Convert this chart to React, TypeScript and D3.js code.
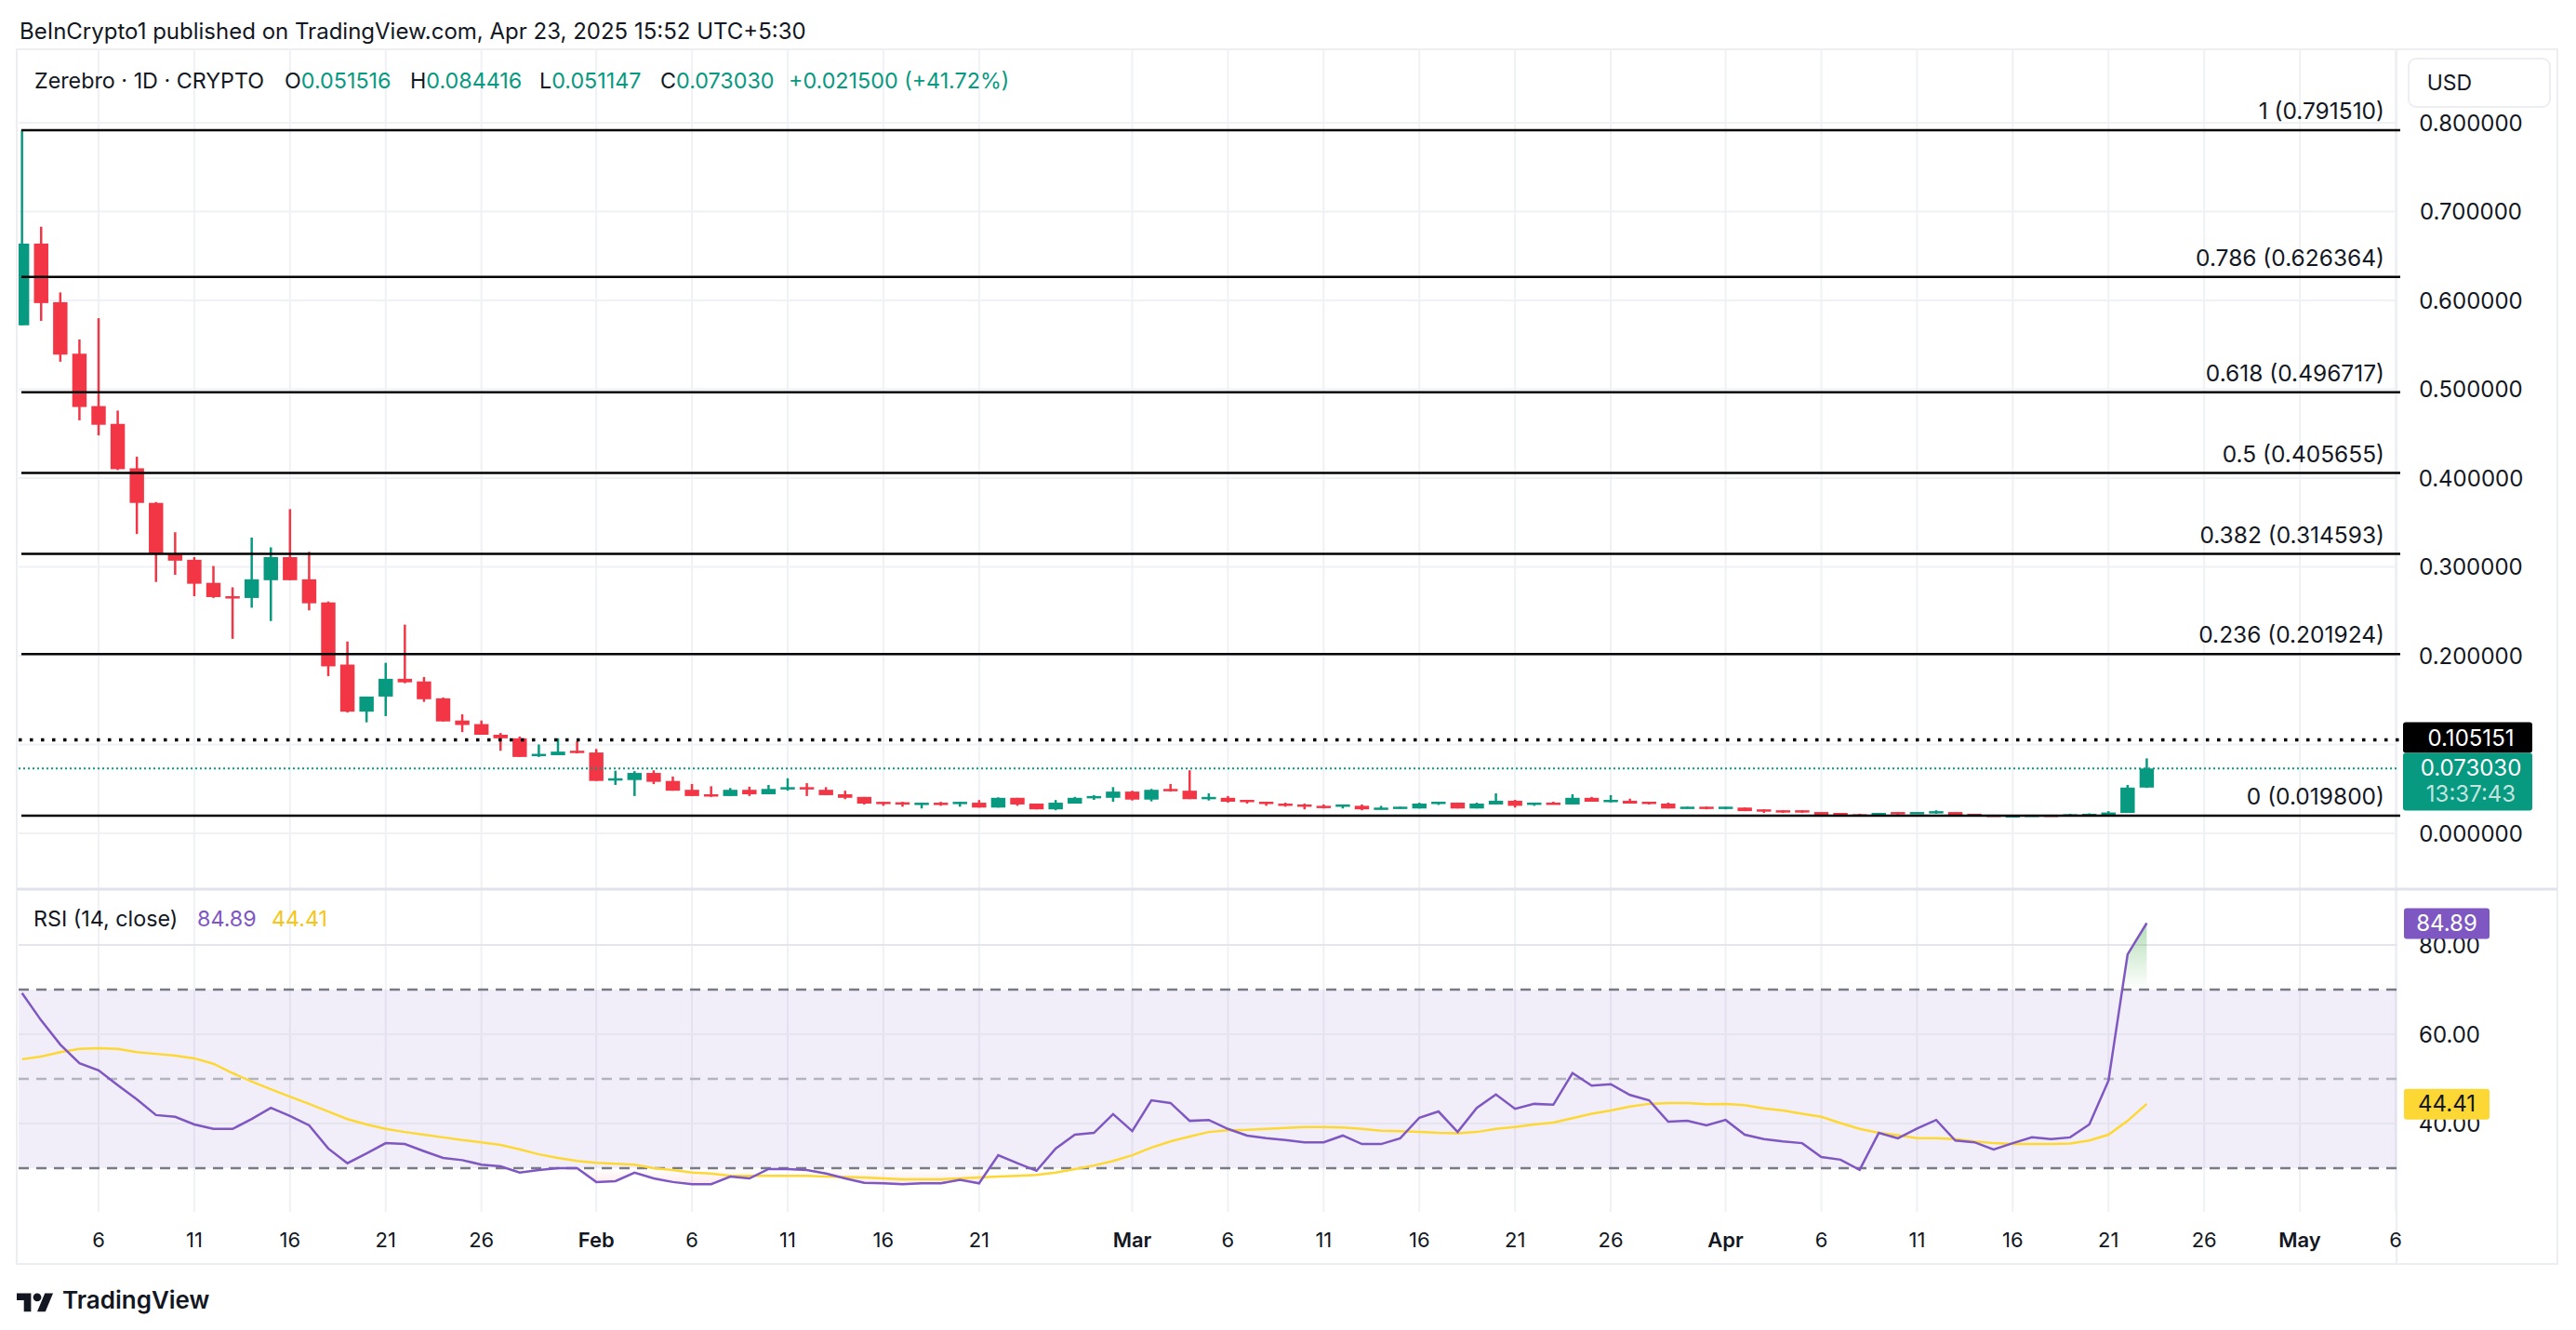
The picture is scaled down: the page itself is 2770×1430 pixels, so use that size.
import { useEffect } from 'react';
import * as d3 from 'd3';

// Daily candles [open, high, low, close], first bar is 2025-01-02
const janCandles: number[][] = [
  [0.572, 0.79151, 0.572, 0.664], [0.664, 0.683, 0.577, 0.597], [0.598, 0.609, 0.531, 0.539],
  [0.540, 0.556, 0.465, 0.480], [0.481, 0.580, 0.448, 0.460], [0.461, 0.476, 0.409, 0.410],
  [0.411, 0.424, 0.337, 0.372], [0.372, 0.373, 0.283, 0.314], [0.315, 0.339, 0.291, 0.307],
  [0.308, 0.311, 0.267, 0.281], [0.282, 0.301, 0.265, 0.266], [0.267, 0.277, 0.219, 0.266],
  [0.265, 0.333, 0.254, 0.286], [0.285, 0.322, 0.239, 0.311], [0.311, 0.365, 0.285, 0.285],
  [0.286, 0.317, 0.251, 0.259], [0.260, 0.261, 0.177, 0.188], [0.190, 0.216, 0.136, 0.137],
  [0.137, 0.154, 0.125, 0.154], [0.154, 0.192, 0.132, 0.174], [0.174, 0.235, 0.169, 0.170],
  [0.171, 0.176, 0.148, 0.151], [0.152, 0.153, 0.126, 0.126], [0.127, 0.134, 0.114, 0.122],
  [0.123, 0.127, 0.111, 0.111], [0.111, 0.113, 0.093, 0.107], [0.107, 0.109, 0.086, 0.086],
  [0.0885, 0.100, 0.086, 0.0895], [0.088, 0.107, 0.088, 0.092], [0.093, 0.104, 0.090, 0.091],
];
const febCandles: number[][] = [
  [0.091, 0.095, 0.059, 0.059], [0.060, 0.0705, 0.0545, 0.062], [0.060, 0.070, 0.042, 0.068],
  [0.068, 0.071, 0.0555, 0.058], [0.059, 0.064, 0.048, 0.048], [0.049, 0.0555, 0.042, 0.042],
  [0.044, 0.053, 0.041, 0.042], [0.042, 0.051, 0.042, 0.049], [0.049, 0.0525, 0.042, 0.044],
  [0.044, 0.0545, 0.044, 0.050], [0.0505, 0.062, 0.048, 0.052], [0.052, 0.0565, 0.042, 0.0505],
  [0.049, 0.052, 0.043, 0.043], [0.044, 0.048, 0.0385, 0.040], [0.041, 0.041, 0.0325, 0.0335],
  [0.0355, 0.0355, 0.031, 0.034], [0.035, 0.0355, 0.030, 0.033], [0.033, 0.0345, 0.028, 0.0345],
  [0.0345, 0.0355, 0.031, 0.033], [0.0337, 0.0355, 0.030, 0.0355], [0.0345, 0.0375, 0.029, 0.029],
  [0.029, 0.0405, 0.029, 0.040], [0.040, 0.040, 0.031, 0.0325], [0.0335, 0.0335, 0.027, 0.027],
  [0.027, 0.0375, 0.026, 0.0345], [0.0335, 0.041, 0.0335, 0.040], [0.0405, 0.043, 0.0377, 0.042],
  [0.040, 0.052, 0.0356, 0.047],
];
const marCandles: number[][] = [
  [0.047, 0.048, 0.037, 0.038], [0.038, 0.050, 0.036, 0.049], [0.050, 0.0555, 0.047, 0.048],
  [0.048, 0.071, 0.0385, 0.0385], [0.039, 0.045, 0.037, 0.041], [0.040, 0.042, 0.0346, 0.0356],
  [0.0377, 0.0377, 0.0335, 0.036], [0.0356, 0.0356, 0.031, 0.034], [0.0335, 0.0345, 0.030, 0.031],
  [0.0325, 0.0335, 0.027, 0.030], [0.031, 0.0325, 0.028, 0.029], [0.030, 0.0325, 0.028, 0.0325],
  [0.031, 0.0325, 0.026, 0.027], [0.027, 0.031, 0.027, 0.029], [0.028, 0.030, 0.028, 0.030],
  [0.028, 0.0345, 0.028, 0.0335], [0.034, 0.0356, 0.032, 0.0356], [0.0346, 0.0346, 0.028, 0.028],
  [0.028, 0.0346, 0.028, 0.0335], [0.0325, 0.045, 0.0325, 0.0367], [0.0367, 0.0377, 0.029, 0.031],
  [0.0325, 0.0346, 0.031, 0.0346], [0.0346, 0.0356, 0.0325, 0.0325], [0.0325, 0.044, 0.0325, 0.040],
  [0.040, 0.041, 0.0356, 0.0356], [0.0356, 0.043, 0.0346, 0.0377], [0.0367, 0.039, 0.0335, 0.0335],
  [0.0356, 0.0356, 0.0325, 0.0335], [0.0335, 0.0346, 0.028, 0.028], [0.028, 0.030, 0.028, 0.030],
  [0.030, 0.030, 0.027, 0.028],
];
const aprCandles: number[][] = [
  [0.028, 0.030, 0.027, 0.030], [0.029, 0.029, 0.025, 0.025], [0.027, 0.027, 0.023, 0.025],
  [0.026, 0.026, 0.023, 0.024], [0.026, 0.026, 0.023, 0.024], [0.024, 0.024, 0.021, 0.021],
  [0.023, 0.023, 0.0198, 0.021], [0.0215, 0.022, 0.0198, 0.020], [0.020, 0.023, 0.0198, 0.023],
  [0.024, 0.024, 0.021, 0.022], [0.022, 0.024, 0.022, 0.024], [0.023, 0.026, 0.022, 0.025],
  [0.024, 0.024, 0.020, 0.020], [0.022, 0.022, 0.020, 0.020], [0.021, 0.021, 0.0198, 0.0198],
  [0.0198, 0.0205, 0.0198, 0.0204], [0.020, 0.021, 0.020, 0.021], [0.021, 0.021, 0.020, 0.020],
  [0.020, 0.022, 0.020, 0.0215], [0.020, 0.0225, 0.020, 0.022], [0.0215, 0.025, 0.021, 0.0235],
  [0.023, 0.0545, 0.023, 0.05153], [0.051516, 0.084416, 0.051147, 0.07303],
];

// RSI(14) and its moving average, one value per day
const rsiJan = [69.2, 63.1, 57.7, 53.5, 51.9, 48.6, 45.4, 41.9, 41.5, 39.8, 38.8, 38.8, 41.0, 43.5, 41.7, 39.6, 34.4, 31.1, 33.3, 35.6, 35.4, 33.8, 32.3, 31.8, 30.8, 30.4, 29.0, 29.6, 30.0, 30.0];
const rsiFeb = [26.9, 27.1, 29.0, 27.7, 26.9, 26.4, 26.4, 28.1, 27.7, 29.8, 29.8, 29.6, 28.8, 27.7, 26.7, 26.6, 26.4, 26.6, 26.6, 27.4, 26.6, 32.9, 31.1, 29.4, 34.4, 37.5, 37.9, 42.1];
const rsiMar = [38.3, 45.2, 44.6, 40.6, 40.8, 38.8, 37.3, 36.7, 36.3, 35.8, 35.8, 37.3, 35.4, 35.4, 36.7, 41.3, 42.7, 38.1, 43.5, 46.5, 43.3, 44.4, 44.2, 51.3, 48.5, 48.8, 46.4, 45.2, 40.4, 40.6, 39.6];
const rsiApr = [40.8, 37.5, 36.5, 36.0, 35.6, 32.5, 31.9, 29.6, 37.9, 36.7, 38.9, 40.8, 36.2, 35.8, 34.2, 35.6, 36.9, 36.5, 36.9, 39.8, 49.6, 77.9, 84.89];
const maJan = [54.4, 55.0, 56.0, 56.7, 56.9, 56.7, 56.0, 55.6, 55.2, 54.6, 53.4, 51.3, 49.4, 47.7, 46.0, 44.4, 42.7, 41.0, 39.8, 38.8, 38.1, 37.5, 36.9, 36.3, 35.8, 35.2, 34.2, 33.1, 32.3, 31.6];
const maFeb = [31.2, 31.0, 30.8, 30.0, 29.6, 29.0, 28.8, 28.3, 28.3, 28.3, 28.3, 28.3, 28.1, 28.0, 27.9, 27.7, 27.5, 27.5, 27.5, 27.7, 27.9, 28.1, 28.3, 28.5, 29.0, 29.8, 30.6, 31.6];
const maMar = [32.9, 34.6, 36.0, 37.1, 38.1, 38.5, 38.6, 38.8, 39.0, 39.2, 39.2, 39.1, 38.8, 38.4, 38.3, 38.1, 37.9, 37.8, 38.1, 38.8, 39.2, 39.8, 40.2, 41.2, 42.2, 42.9, 43.8, 44.4, 44.6, 44.6, 44.3];
const maApr = [44.4, 44.1, 43.4, 42.9, 42.2, 41.5, 40.1, 38.8, 37.9, 37.4, 36.7, 36.7, 36.5, 36.0, 35.6, 35.4, 35.4, 35.4, 35.5, 36.2, 37.5, 40.6, 44.41];

const fibLevels = [
  { ratio: '1', price: 0.79151 },
  { ratio: '0.786', price: 0.626364 },
  { ratio: '0.618', price: 0.496717 },
  { ratio: '0.5', price: 0.405655 },
  { ratio: '0.382', price: 0.314593 },
  { ratio: '0.236', price: 0.201924 },
  { ratio: '0', price: 0.0198 },
];
const markedHigh = 0.105151;
const countdown = '13:37:43';
const priceGrid = [0, 0.1, 0.2, 0.3, 0.4, 0.5, 0.6, 0.7, 0.8];
const priceLabels = [0, 0.2, 0.3, 0.4, 0.5, 0.6, 0.7, 0.8];
const rsiGrid = [80, 60, 40];
const rsiLevels = [70, 50, 30];
const dateTicks = [
  '2025-01-06', '2025-01-11', '2025-01-16', '2025-01-21', '2025-01-26', '2025-02-01',
  '2025-02-06', '2025-02-11', '2025-02-16', '2025-02-21', '2025-03-01', '2025-03-06',
  '2025-03-11', '2025-03-16', '2025-03-21', '2025-03-26', '2025-04-01', '2025-04-06',
  '2025-04-11', '2025-04-16', '2025-04-21', '2025-04-26', '2025-05-01', '2025-05-06',
];

const W = 2770;
const H = 1430;
const GREEN = '#089981';
const RED = '#f23645';
const PURPLE = '#7e57c2';
const YELLOW = '#fdd835';
const TEXT = '#131722';
const GRID = '#f0f1f4';
const FONT = 'Inter, Roboto, "Noto Sans", sans-serif';

const PANE_L = 20;
const PANE_R = 2577;
const MAIN_T = 53;
const MAIN_B = 955;
const RSI_T = 957;
const RSI_B = 1303;

export default function App() {
  useEffect(() => {
    document.body.style.margin = '0';
    document.body.style.overflow = 'hidden';
  }, []);

  const start = new Date(Date.UTC(2025, 0, 2));
  const bars = [...janCandles, ...febCandles, ...marCandles, ...aprCandles].map((c, i) => ({
    date: d3.utcDay.offset(start, i), o: c[0], h: c[1], l: c[2], c: c[3],
  }));
  const rsi = [...rsiJan, ...rsiFeb, ...rsiMar, ...rsiApr].map((v, i) => ({ date: bars[i].date, v }));
  const ma = [...maJan, ...maFeb, ...maMar, ...maApr].map((v, i) => ({ date: bars[i].date, v }));

  const x = d3.scaleUtc()
    .domain([new Date(Date.UTC(2025, 0, 6)), new Date(Date.UTC(2025, 4, 6))])
    .range([106, 2576]);
  const y = d3.scaleLinear().domain([0, 0.8]).range([896, 132]);
  const yr = d3.scaleLinear().domain([30, 80]).range([1256, 1016]);

  const step = x(d3.utcDay.offset(start, 1)) - x(start);
  const bodyW = step * 0.75;

  const rsiLine = d3.line<{ date: Date; v: number }>().x(d => x(d.date)).y(d => yr(d.v));
  const rsiArea = d3.area<{ date: Date; v: number }>().x(d => x(d.date)).y0(yr(70)).y1(d => yr(d.v));
  const rsiAreaLow = d3.area<{ date: Date; v: number }>().x(d => x(d.date)).y0(yr(30)).y1(d => yr(d.v));

  const f6 = d3.format('.6f');
  const last = bars[bars.length - 1];
  const prev = bars[bars.length - 2];
  const chg = last.c - prev.c;
  const chgPct = (chg / prev.c) * 100;

  const ticks = dateTicks.map(s => new Date(s + 'T00:00:00Z'));
  const tickLabel = (d: Date) => (d.getUTCDate() === 1 ? d3.utcFormat('%b')(d) : String(d.getUTCDate()));

  return (
    <svg width={W} height={H} style={{ position: 'absolute', left: 0, top: 0, display: 'block', background: '#fff' }} fontFamily={FONT}>
      <defs>
        <clipPath id="mainClip"><rect x={PANE_L} y={MAIN_T} width={PANE_R - PANE_L} height={MAIN_B - MAIN_T} /></clipPath>
        <clipPath id="rsiClip"><rect x={PANE_L} y={RSI_T} width={PANE_R - PANE_L} height={RSI_B - RSI_T} /></clipPath>
        <clipPath id="above70"><rect x={PANE_L} y={RSI_T} width={PANE_R - PANE_L} height={yr(70) - RSI_T} /></clipPath>
        <clipPath id="below30"><rect x={PANE_L} y={yr(30)} width={PANE_R - PANE_L} height={RSI_B - yr(30)} /></clipPath>
        <linearGradient id="gUp" x1="0" y1={yr(86)} x2="0" y2={yr(70)} gradientUnits="userSpaceOnUse">
          <stop offset="0" stopColor="#4caf50" stopOpacity={0.45} />
          <stop offset="1" stopColor="#4caf50" stopOpacity={0} />
        </linearGradient>
        <linearGradient id="gDn" x1="0" y1={yr(30)} x2="0" y2={yr(25)} gradientUnits="userSpaceOnUse">
          <stop offset="0" stopColor={RED} stopOpacity={0} />
          <stop offset="1" stopColor={RED} stopOpacity={0.15} />
        </linearGradient>
      </defs>

      <rect width={W} height={H} fill="#fff" />

      {/* header */}
      <text x={21} y={42} fontSize={24} fill={TEXT}>BeInCrypto1 published on TradingView.com, Apr 23, 2025 15:52 UTC+5:30</text>

      {/* frame */}
      <rect x={18} y={MAIN_T} width={2732} height={1306} fill="none" stroke="#eceef2" strokeWidth={2} />
      <line x1={PANE_R} x2={PANE_R} y1={MAIN_T} y2={1359} stroke="#eceef2" strokeWidth={2} />

      {/* grid */}
      {ticks.map((t, i) => (
        <line key={'vg' + i} x1={x(t)} x2={x(t)} y1={MAIN_T} y2={RSI_B} stroke={GRID} strokeWidth={2} />
      ))}
      {priceGrid.map(p => (
        <line key={'hg' + p} x1={PANE_L} x2={PANE_R} y1={y(p)} y2={y(p)} stroke={GRID} strokeWidth={2} />
      ))}
      <line x1={18} x2={2750} y1={956} y2={956} stroke="#e0e3eb" strokeWidth={3} />

      {/* RSI pane */}
      <rect x={PANE_L} y={yr(70)} width={PANE_R - PANE_L} height={yr(30) - yr(70)} fill={PURPLE} fillOpacity={0.1} />
      {rsiGrid.map(v => (
        <line key={'rg' + v} x1={PANE_L} x2={PANE_R} y1={yr(v)} y2={yr(v)} stroke="#e6e4ee" strokeWidth={2} />
      ))}
      {rsiLevels.map(v => (
        <line key={'rl' + v} x1={PANE_L} x2={PANE_R + 4} y1={yr(v)} y2={yr(v)}
          stroke={v === 50 ? '#b2b5be' : '#787b86'} strokeWidth={2.5} strokeDasharray="11 8" />
      ))}
      <g clipPath="url(#rsiClip)">
        <path d={rsiArea(rsi) ?? ''} fill="url(#gUp)" clipPath="url(#above70)" />
        <path d={rsiAreaLow(rsi) ?? ''} fill="url(#gDn)" clipPath="url(#below30)" />
        <path d={rsiLine(ma) ?? ''} fill="none" stroke={YELLOW} strokeWidth={2.5} />
        <path d={rsiLine(rsi) ?? ''} fill="none" stroke={PURPLE} strokeWidth={2.5} />
      </g>

      {/* candles */}
      <g clipPath="url(#mainClip)">
        {bars.map((b, i) => {
          const up = b.c >= b.o;
          const col = up ? GREEN : RED;
          const cx = x(b.date);
          const top = y(Math.max(b.o, b.c));
          const bh = Math.max(2.5, y(Math.min(b.o, b.c)) - top);
          return (
            <g key={'c' + i}>
              <line x1={cx} x2={cx} y1={y(b.h)} y2={y(b.l)} stroke={col} strokeWidth={2.5} />
              <rect x={cx - bodyW / 2} y={top} width={bodyW} height={bh} fill={col} />
            </g>
          );
        })}
      </g>

      {/* fib levels */}
      {fibLevels.map(f => (
        <g key={'f' + f.ratio}>
          <line x1={PANE_L + 3} x2={PANE_R + 4} y1={y(f.price)} y2={y(f.price)} stroke="#000" strokeWidth={2.5} />
          <text x={2564} y={y(f.price) - 12} textAnchor="end" fontSize={24.5} fill={TEXT}>
            {`${f.ratio} (${f6(f.price)})`}
          </text>
        </g>
      ))}
      <line x1={PANE_L} x2={PANE_R + 4} y1={y(markedHigh)} y2={y(markedHigh)} stroke="#000" strokeWidth={3.5} strokeDasharray="3.5 8.5" />
      <line x1={PANE_L} x2={PANE_R} y1={y(last.c)} y2={y(last.c)} stroke={GREEN} strokeWidth={2} strokeDasharray="2 3" />

      {/* legend */}
      <text y={95} fontSize={23.3} fill={TEXT}>
        <tspan x={37}>Zerebro · 1D · CRYPTO</tspan>
        <tspan x={306}>O</tspan><tspan fill={GREEN}>{f6(last.o)}</tspan>
        <tspan x={441}>H</tspan><tspan fill={GREEN}>{f6(last.h)}</tspan>
        <tspan x={580}>L</tspan><tspan fill={GREEN}>{f6(last.l)}</tspan>
        <tspan x={710}>C</tspan><tspan fill={GREEN}>{f6(last.c)}</tspan>
        <tspan x={848} fill={GREEN}>{`+${f6(chg)} (+${chgPct.toFixed(2)}%)`}</tspan>
      </text>
      <text y={996} fontSize={23.3} fill={TEXT}>
        <tspan x={36}>RSI (14, close)</tspan>
        <tspan x={212} fill={PURPLE}>{rsi[rsi.length - 1].v.toFixed(2)}</tspan>
        <tspan x={292} fill="#f5c518">{ma[ma.length - 1].v.toFixed(2)}</tspan>
      </text>

      {/* price axis */}
      <rect x={2590} y={63} width={152} height={52} rx={8} fill="#fff" stroke="#eceef2" strokeWidth={2} />
      <text x={2634} y={97} textAnchor="middle" fontSize={23} fill={TEXT}>USD</text>
      {priceLabels.map(p => (
        <text key={'pl' + p} x={2657} y={y(p) + 8.5} textAnchor="middle" fontSize={24} fill={TEXT}>{f6(p)}</text>
      ))}
      <rect x={2584} y={y(markedHigh) - 19} width={139} height={33} rx={3} fill="#000" />
      <text x={2657} y={y(markedHigh) + 6} textAnchor="middle" fontSize={24} fill="#fff">{f6(markedHigh)}</text>
      <rect x={2584} y={y(markedHigh) + 14} width={139} height={62} rx={3} fill={GREEN} />
      <text x={2657} y={y(last.c) + 8} textAnchor="middle" fontSize={24} fill="#fff">{f6(last.c)}</text>
      <text x={2657} y={y(last.c) + 36} textAnchor="middle" fontSize={24} fill="#fff" fillOpacity={0.75}>{countdown}</text>

      {/* RSI axis: the current-value boxes cover parts of the 80 and 40 labels, as in the source */}
      {rsiGrid.map(v => (
        <text key={'rt' + v} x={2634} y={yr(v) + 8.5} textAnchor="middle" fontSize={24} fill={TEXT}>{v.toFixed(2)}</text>
      ))}
      <rect x={2585} y={yr(84.89) - 16} width={92} height={33} rx={3} fill={PURPLE} />
      <text x={2631} y={yr(84.89) + 8.5} textAnchor="middle" fontSize={24} fill="#fff">{rsi[rsi.length - 1].v.toFixed(2)}</text>
      <rect x={2585} y={yr(44.41) - 16} width={92} height={33} rx={3} fill={YELLOW} />
      <text x={2631} y={yr(44.41) + 8.5} textAnchor="middle" fontSize={24} fill={TEXT}>{ma[ma.length - 1].v.toFixed(2)}</text>

      {/* time axis */}
      {ticks.map((t, i) => (
        <text key={'tl' + i} x={x(t)} y={1341} textAnchor="middle" fontSize={22} fill={TEXT}
          fontWeight={t.getUTCDate() === 1 ? 600 : 400}>{tickLabel(t)}</text>
      ))}

      {/* footer logo */}
      <g transform="translate(18,1386) scale(1.1)" fill={TEXT}>
        <path d="M14 22H7V11H0V4h14v18zM28 22h-8l7.5-18h8L28 22z" />
        <circle cx={20} cy={8} r={4} />
      </g>
      <text x={67} y={1407} fontSize={26} fontWeight={600} fill={TEXT}>TradingView</text>
    </svg>
  );
}
